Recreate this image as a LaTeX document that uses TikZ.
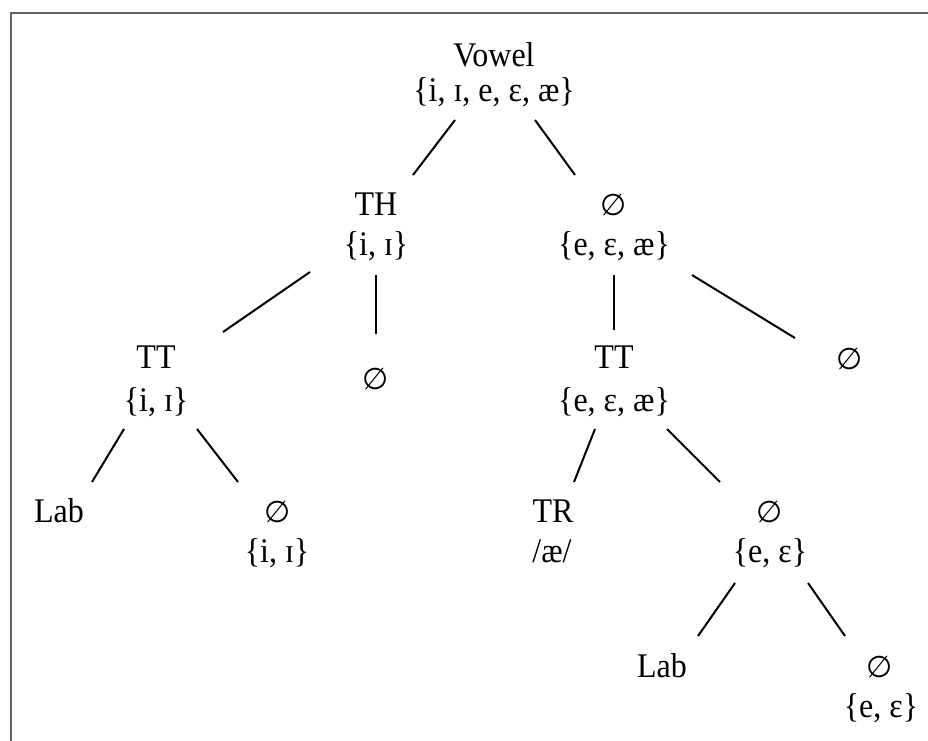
\documentclass[tikz,border=0pt]{standalone}
\usepackage{fontspec}
\usepackage{graphicx}
\setmainfont{Liberation Serif}
\newfontfamily\symfont{DejaVu Sans}
\usetikzlibrary{calc}
\newcommand{\nul}{{\symfont\fontsize{30}{35}\selectfont ∅}}
\newcommand{\tx}[1]{\scalebox{1}[1.08]{#1}}
\tikzset{
  lbl/.style={anchor=base, inner sep=0pt, font=\fontsize{32}{37}\selectfont},
  edge/.style={line width=2pt, black},
  frame/.style={line width=2pt, black!60}
}
\begin{document}
\begin{tikzpicture}[x=1pt,y=-1pt]
\useasboundingbox (0,0) rectangle (928,740);
\draw[frame] (11,741) -- (11,13) -- (929,13);
% level 1
\node[lbl] (v) at (494,66) {\tx{Vowel}};
\node[lbl] (vs) at (494,101) {\tx{\{i, ɪ, e, ɛ, æ\}}};
% level 2
\node[lbl] (th) at (376,215) {\tx{TH}};
\node[lbl] (ths) at (376,255) {\tx{\{i, ɪ\}}};
\node[lbl] (n1) at (614,215) {\nul};
\node[lbl] (n1s) at (614,255) {\tx{\{e, ɛ, æ\}}};
% level 3
\node[lbl] (tt1) at (156,368) {\tx{TT}};
\node[lbl] (tt1s) at (156,411) {\tx{\{i, ɪ\}}};
\node[lbl] (n2) at (376,389) {\nul};
\node[lbl] (tt2) at (614,368) {\tx{TT}};
\node[lbl] (tt2s) at (614,411) {\tx{\{e, ɛ, æ\}}};
\node[lbl] (n3) at (850,369) {\nul};
% level 4
\node[lbl] (lab1) at (59,522) {\tx{Lab}};
\node[lbl] (n4) at (278,522) {\nul};
\node[lbl] (n4s) at (277,562) {\tx{\{i, ɪ\}}};
\node[lbl] (tr) at (553,522) {\tx{TR}};
\node[lbl] (trs) at (552,562) {\tx{/æ/}};
\node[lbl] (n5) at (770,522) {\nul};
\node[lbl] (n5s) at (770,562) {\tx{\{e, ɛ\}}};
% level 5
\node[lbl] (lab2) at (662,677) {\tx{Lab}};
\node[lbl] (n6) at (880,677) {\nul};
\node[lbl] (n6s) at (881,717) {\tx{\{e, ɛ\}}};
% connectors
\draw[edge] ($(vs.base)+(-39,19)$) -- ($(th.base)+(37,-40)$);
\draw[edge] ($(vs.base)+(41,19)$) -- ($(n1.base)+(-39,-40)$);
\draw[edge] ($(ths.base)+(-66,17)$) -- ($(tt1.base)+(67,-36)$);
\draw[edge] ($(ths.base)+(0,20)$) -- ($(n2.base)+(0,-55)$);
\draw[edge] ($(n1s.base)+(0,20)$) -- ($(tt2.base)+(0,-38)$);
\draw[edge] ($(n1s.base)+(78,20)$) -- ($(n3.base)+(-55,-31)$);
\draw[edge] ($(tt1s.base)+(-32,18)$) -- ($(lab1.base)+(33,-40)$);
\draw[edge] ($(tt1s.base)+(41,18)$) -- ($(n4.base)+(-40,-40)$);
\draw[edge] ($(tt2s.base)+(-19,18)$) -- ($(tr.base)+(21,-40)$);
\draw[edge] ($(tt2s.base)+(53,18)$) -- ($(n5.base)+(-50,-40)$);
\draw[edge] ($(n5s.base)+(-35,21)$) -- ($(lab2.base)+(36,-41)$);
\draw[edge] ($(n5s.base)+(38,21)$) -- ($(n6.base)+(-35,-41)$);
\end{tikzpicture}
\end{document}
